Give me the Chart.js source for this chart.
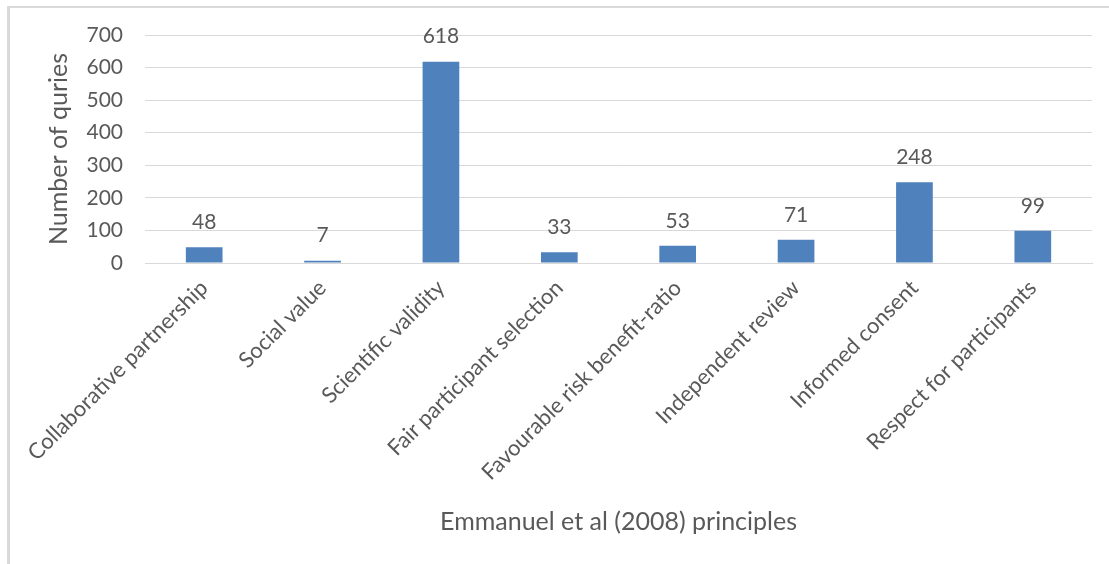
<!DOCTYPE html>
<html>
<head>
<meta charset="utf-8">
<script src="https://cdn.jsdelivr.net/npm/chart.js@4/dist/chart.umd.min.js"></script>
<style>
  html, body { margin: 0; padding: 0; background: #fff; }
  #wrap { position: relative; width: 1109px; height: 564px; }
  #wrap canvas { position: absolute; left: 0; top: 0; }
  #frame {
    position: absolute; left: 7px; top: 6px; right: 0; bottom: 0;
    border-left: 3px solid #d9d9d9; border-top: 2px solid #d9d9d9;
    pointer-events: none;
  }
</style>
</head>
<body>
<div id="wrap">
  <canvas id="principlesChart" width="1109" height="564"></canvas>
  <div id="frame"></div>
</div>
<script>
// Catégories et nombre de requêtes par principe
const principles = [
    'Collaborative partnership',
    'Social value',
    'Scientific validity',
    'Fair participant selection',
    'Favourable risk benefit-ratio',
    'Independent review',
    'Informed consent',
    'Respect for participants'
];
const queries = [48, 7, 618, 33, 53, 71, 248, 99];
const yTicks = [0, 100, 200, 300, 400, 500, 600, 700];

const textColor = '#595959';
const fontFamily = 'Lato, "Open Sans", sans-serif';

// Affiche la valeur au-dessus de chaque barre
const valueLabels = {
    id: 'valueLabels',
    afterDatasetsDraw(chart) {
        const ctx = chart.ctx;
        const meta = chart.getDatasetMeta(0);
        ctx.save();
        ctx.font = `21px ${fontFamily}`;
        ctx.fillStyle = textColor;
        ctx.textAlign = 'center';
        ctx.textBaseline = 'middle';
        meta.data.forEach((bar, i) => {
            ctx.fillText(String(queries[i]), bar.x, bar.y - 25);
        });
        ctx.restore();
    }
};

const ctx = document.getElementById('principlesChart').getContext('2d');
new Chart(ctx, {
    type: 'bar',
    data: {
        labels: principles,
        datasets: [{
            label: 'Number of quries',
            data: queries,
            backgroundColor: '#4f81bd',
            borderWidth: 0,
            categoryPercentage: 1,
            barPercentage: 0.31
        }]
    },
    options: {
        responsive: false,
        animation: false,
        layout: { padding: { left: 44, top: 35, right: 17, bottom: 27 } },
        plugins: {
            legend: { display: false },
            tooltip: { enabled: false }
        },
        scales: {
            x: {
                grid: { display: false, drawTicks: false },
                border: { display: true, color: '#d9d9d9', width: 1 },
                ticks: {
                    color: textColor,
                    font: { family: fontFamily, size: 22 },
                    minRotation: 45,
                    maxRotation: 45,
                    autoSkip: false,
                    padding: 12
                },
                title: {
                    display: true,
                    text: 'Emmanuel et al (2008) principles',
                    color: textColor,
                    font: { family: fontFamily, size: 25 },
                    padding: 0
                },
                afterFit(scale) { scale.height = 274; }
            },
            y: {
                min: 0,
                max: 700,
                afterBuildTicks(scale) {
                    scale.ticks = yTicks.map(v => ({ value: v }));
                },
                grid: { color: '#d9d9d9', lineWidth: 1, drawTicks: false },
                border: { display: false },
                ticks: {
                    color: textColor,
                    font: { family: fontFamily, size: 21 },
                    padding: 22
                },
                title: {
                    display: true,
                    text: 'Number of quries',
                    color: textColor,
                    font: { family: fontFamily, size: 25 },
                    padding: 0
                },
                afterFit(scale) { scale.width = 101; }
            }
        }
    },
    plugins: [valueLabels]
});
</script>
</body>
</html>
